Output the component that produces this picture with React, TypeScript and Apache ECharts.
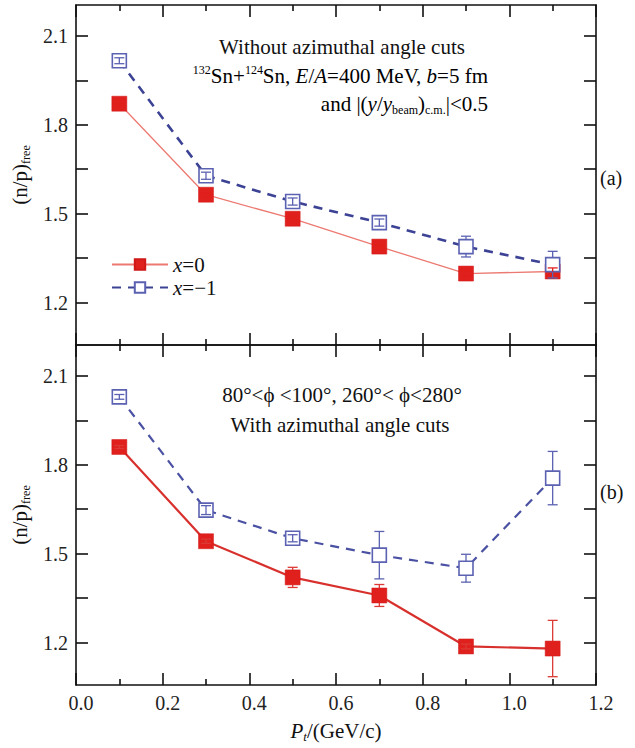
import React, { useEffect, useRef } from 'react';
import * as echarts from 'echarts';

// ---- data ----
const ptValues = [0.1, 0.3, 0.5, 0.7, 0.9, 1.1];

// panel (a): without azimuthal angle cuts
const redA = [1.871, 1.564, 1.483, 1.389, 1.298, 1.305];
const redAErr = [0.004, 0.006, 0.006, 0.006, 0.008, 0.012];
const blueA = [2.016, 1.628, 1.541, 1.47, 1.389, 1.328];
const blueAErr = [0.01, 0.012, 0.012, 0.012, 0.035, 0.045];

// panel (b): with azimuthal angle cuts
const redB = [1.86, 1.542, 1.42, 1.359, 1.187, 1.18];
const redBErr = [0.005, 0.007, 0.034, 0.037, 0.008, 0.095];
const blueB = [2.029, 1.647, 1.552, 1.495, 1.451, 1.755];
const blueBErr = [0.008, 0.015, 0.012, 0.08, 0.047, 0.09];

const yTickValues = [1.2, 1.35, 1.5, 1.65, 1.8, 1.95, 2.1];
const yLabelValues = [1.2, 1.5, 1.8, 2.1];
const yMin = 1.057;
const yMax = 2.204;
const xMin = 0;
const xMax = 1.2;
const xInterval = 0.2;

const FONT = 'Liberation Serif';
const RED = '#e0201c';
const RED_LINE_A = '#ec7a72';
const RED_LINE_B = '#d8302c';
const BLUE = '#5b62b2';
const NAVY = '#3d4394';
const AXIS = '#111';

function errorSeries(
  xAxisIndex: number,
  yAxisIndex: number,
  ys: number[],
  errs: number[],
  color: string,
  markerHalf: number
) {
  return {
    type: 'custom',
    xAxisIndex,
    yAxisIndex,
    z: 10,
    silent: true,
    data: ptValues.map((x, i) => [x, ys[i], errs[i]]),
    renderItem: (params: any, api: any) => {
      const x = api.value(0);
      const y = api.value(1);
      const e = api.value(2);
      const top = api.coord([x, y + e]);
      const bot = api.coord([x, y - e]);
      const c = api.coord([x, y]);
      const cap = 5;
      const st = { stroke: color, lineWidth: 1.3 };
      const children: any[] = [];
      if (c[1] - top[1] > markerHalf) {
        children.push({ type: 'line', shape: { x1: c[0], y1: top[1], x2: c[0], y2: c[1] - markerHalf }, style: st });
        children.push({ type: 'line', shape: { x1: c[0], y1: bot[1], x2: c[0], y2: c[1] + markerHalf }, style: st });
      } else {
        children.push({ type: 'line', shape: { x1: c[0], y1: top[1], x2: c[0], y2: bot[1] }, style: st });
      }
      children.push({ type: 'line', shape: { x1: c[0] - cap, y1: top[1], x2: c[0] + cap, y2: top[1] }, style: st });
      children.push({ type: 'line', shape: { x1: c[0] - cap, y1: bot[1], x2: c[0] + cap, y2: bot[1] }, style: st });
      return { type: 'group', children };
    },
  };
}

const richText = {
  n: { fontFamily: FONT, fontSize: 21, color: '#111', lineHeight: 24 },
  i: { fontFamily: FONT, fontSize: 21, color: '#111', fontStyle: 'italic', lineHeight: 24 },
  sup: { fontFamily: FONT, fontSize: 12, color: '#111', verticalAlign: 'top', lineHeight: 12 },
  sub: { fontFamily: FONT, fontSize: 12, color: '#111', verticalAlign: 'bottom', lineHeight: 12 },
};

function makeXAxis(gridIndex: number, position: 'top' | 'bottom', labels: boolean) {
  return {
    type: 'value',
    gridIndex,
    position,
    min: xMin,
    max: xMax,
    interval: xInterval,
    axisLine: { show: true, onZero: false, lineStyle: { color: AXIS, width: 1.6 } },
    axisTick: { show: true, inside: true, length: 12, lineStyle: { color: AXIS, width: 1.6 } },
    minorTick: { show: true, splitNumber: 2, length: 6, lineStyle: { color: AXIS, width: 1.6 } },
    splitLine: { show: false },
    minorSplitLine: { show: false },
    axisLabel: labels
      ? {
          show: true,
          margin: 8,
          fontFamily: FONT,
          fontSize: 20,
          color: '#222',
          padding: [0, 0, 0, 10],
          formatter: (v: number) => v.toFixed(1),
        }
      : { show: false },
    ...(labels
      ? {
          name: '{i|P}{si|t}{n|/(GeV/c)}',
          nameLocation: 'middle',
          nameGap: 34,
          nameTextStyle: {
            rich: {
              n: { fontFamily: FONT, fontSize: 21, color: '#111', lineHeight: 24 },
              i: { fontFamily: FONT, fontSize: 21, color: '#111', fontStyle: 'italic', lineHeight: 24 },
              si: { fontFamily: FONT, fontSize: 13, color: '#111', fontStyle: 'italic', verticalAlign: 'bottom', lineHeight: 12 },
            },
          },
        }
      : {}),
  };
}

function makeYAxis(gridIndex: number, position: 'left' | 'right', labels: boolean) {
  return {
    type: 'value',
    gridIndex,
    position,
    min: yMin,
    max: yMax,
    axisLine: { show: true, onZero: false, lineStyle: { color: AXIS, width: 1.6 } },
    axisTick: { show: true, inside: true, length: 12, customValues: yTickValues, lineStyle: { color: AXIS, width: 1.6 } },
    splitLine: { show: false },
    axisLabel: labels
      ? {
          show: true,
          margin: 8,
          fontFamily: FONT,
          fontSize: 20,
          color: '#222',
          customValues: yLabelValues,
          formatter: (v: number) => v.toFixed(1),
        }
      : { show: false },
    ...(labels
      ? {
          name: '{n|(n/p)}{sub|free}',
          nameLocation: 'middle',
          nameGap: 34,
          nameRotate: 90,
          nameTextStyle: {
            rich: {
              n: { fontFamily: FONT, fontSize: 21, color: '#111', lineHeight: 24 },
              sub: { fontFamily: FONT, fontSize: 12, color: '#111', verticalAlign: 'bottom', lineHeight: 12 },
            },
          },
        }
      : {}),
  };
}

function lineSeries(
  name: string,
  xAxisIndex: number,
  yAxisIndex: number,
  ys: number[],
  kind: 'red' | 'blue',
  panel: 'a' | 'b'
) {
  const isRed = kind === 'red';
  return {
    type: 'line',
    name,
    xAxisIndex,
    yAxisIndex,
    data: ptValues.map((x, i) => [x, ys[i]]),
    symbol: 'rect',
    symbolSize: isRed ? 15 : 14,
    z: isRed ? 3 : 4,
    lineStyle: isRed
      ? { color: panel === 'a' ? RED_LINE_A : RED_LINE_B, width: panel === 'a' ? 1.3 : 2.2, type: 'solid' }
      : { color: panel === 'a' ? NAVY : '#4a51a3', width: panel === 'a' ? 2.6 : 2.2, type: [9, 7] },
    itemStyle: isRed
      ? { color: RED, borderColor: '#d01818', borderWidth: 0.5 }
      : { color: '#ffffff', borderColor: BLUE, borderWidth: 1.6 },
    emphasis: { disabled: true },
  };
}

export default function App() {
  const ref = useRef<HTMLDivElement>(null);

  useEffect(() => {
    document.body.style.margin = '0';
    if (!ref.current) return;
    const chart = echarts.init(ref.current, undefined, { renderer: 'svg' });

    const option: any = {
      animation: false,
      backgroundColor: '#ffffff',
      textStyle: { fontFamily: FONT },
      grid: [
        { left: 76, top: 5, width: 520, height: 340 },
        { left: 76, top: 345, width: 520, height: 340 },
      ],
      xAxis: [
        makeXAxis(0, 'bottom', false),
        makeXAxis(0, 'top', false),
        makeXAxis(1, 'bottom', true),
        makeXAxis(1, 'top', false),
      ],
      yAxis: [
        makeYAxis(0, 'left', true),
        makeYAxis(0, 'right', false),
        makeYAxis(1, 'left', true),
        makeYAxis(1, 'right', false),
      ],
      legend: {
        orient: 'vertical',
        left: 106,
        top: 249,
        itemWidth: 56,
        itemHeight: 13,
        itemGap: 2,
        data: ['x=0', 'x=\u22121'],
        formatter: (name: string) => (name === 'x=0' ? '{i|x}{n|=0}' : '{i|x}{n|=\u22121}'),
        textStyle: {
          rich: {
            n: { fontFamily: FONT, fontSize: 21, color: '#111' },
            i: { fontFamily: FONT, fontSize: 21, color: '#111', fontStyle: 'italic' },
          },
        },
        selectedMode: false,
      },
      series: [
        lineSeries('x=0', 0, 0, redA, 'red', 'a'),
        lineSeries('x=\u22121', 0, 0, blueA, 'blue', 'a'),
        errorSeries(0, 0, redA, redAErr, RED, 7.5),
        errorSeries(0, 0, blueA, blueAErr, BLUE, 7),
        lineSeries('x=0', 2, 2, redB, 'red', 'b'),
        lineSeries('x=\u22121', 2, 2, blueB, 'blue', 'b'),
        errorSeries(2, 2, redB, redBErr, '#dc3a36', 7.5),
        errorSeries(2, 2, blueB, blueBErr, BLUE, 7),
      ],
      graphic: [
        {
          type: 'text',
          x: 342,
          y: 47,
          style: { text: 'Without azimuthal angle cuts', fill: '#111', fontFamily: FONT, fontSize: 21, align: 'center', verticalAlign: 'middle' },
        },
        {
          type: 'text',
          x: 488,
          y: 76,
          style: {
            text: '{sup|132}{n|Sn+}{sup|124}{n|Sn, }{i|E}{n|/}{i|A}{n|=400 MeV, }{i|b}{n|=5 fm}',
            rich: richText,
            fontFamily: FONT,
            align: 'right',
            verticalAlign: 'middle',
          },
        },
        {
          type: 'text',
          x: 488,
          y: 104,
          style: {
            text: '{n|and |(}{i|y}{n|/}{i|y}{sub|beam}{n|)}{sub|c.m.}{n||<0.5}',
            rich: richText,
            fontFamily: FONT,
            align: 'right',
            verticalAlign: 'middle',
          },
        },
        {
          type: 'text',
          x: 342,
          y: 395,
          style: {
            text: '80\u00b0<\u03d5 <100\u00b0, 260\u00b0< \u03d5<280\u00b0',
            fill: '#111',
            fontFamily: FONT,
            fontSize: 21,
            align: 'center',
            verticalAlign: 'middle',
          },
        },
        {
          type: 'text',
          x: 340,
          y: 425,
          style: { text: 'With azimuthal angle cuts', fill: '#111', fontFamily: FONT, fontSize: 21, align: 'center', verticalAlign: 'middle' },
        },
        {
          type: 'text',
          x: 600,
          y: 178,
          style: { text: '(a)', fill: '#111', fontFamily: FONT, fontSize: 20, align: 'left', verticalAlign: 'middle' },
        },
        {
          type: 'text',
          x: 600,
          y: 492,
          style: { text: '(b)', fill: '#111', fontFamily: FONT, fontSize: 20, align: 'left', verticalAlign: 'middle' },
        },
      ],
    };

    chart.setOption(option);
    return () => chart.dispose();
  }, []);

  return (
    <div
      ref={ref}
      style={{ position: 'absolute', left: 0, top: 0, width: 635, height: 748, background: '#fff' }}
    />
  );
}
